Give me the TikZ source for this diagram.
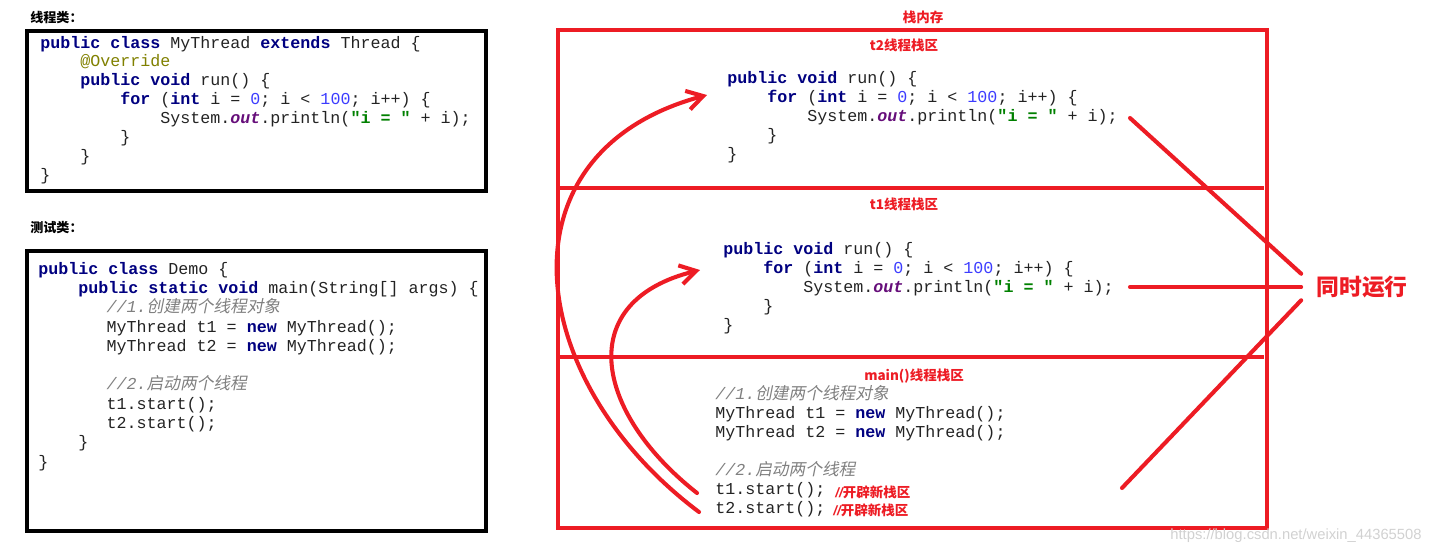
\documentclass[tikz,border=0pt]{standalone}
\usepackage{fontspec}
\usepackage{xcolor}
\setmonofont{Liberation Mono}
\setsansfont{Liberation Sans}
\newfontfamily\cjk{Noto Sans CJK SC}
\newfontfamily\cjkslant[FakeSlant=0.2]{Noto Sans CJK SC}
\usetikzlibrary{arrows.meta,positioning}

\definecolor{memred}{RGB}{237,28,36}
\definecolor{kwnavy}{RGB}{0,0,128}
\definecolor{numblue}{RGB}{60,60,255}
\definecolor{strgreen}{RGB}{0,128,0}
\definecolor{fldpurple}{RGB}{102,14,122}
\definecolor{annolive}{RGB}{128,128,0}
\definecolor{cmtgray}{RGB}{128,128,128}
\definecolor{plaintext}{RGB}{35,35,35}

\newcommand\kw[1]{\textcolor{kwnavy}{\bfseries #1}}
\newcommand\num[1]{\textcolor{numblue}{#1}}
\newcommand\str[1]{\textcolor{strgreen}{\bfseries #1}}
\newcommand\fld[1]{\textcolor{fldpurple}{\bfseries\itshape #1}}
\newcommand\cmt[1]{\textcolor{cmtgray}{\itshape #1}}
\newcommand\tb{\hspace*{2.4em}}
\newcommand\tbb{\hspace*{4.1em}}
\newcommand\codefont{\ttfamily\fontsize{11.86pt}{13.4pt}\selectfont}
\newcommand\demofont{\ttfamily\fontsize{11.86pt}{13.7pt}\selectfont}

\tikzset{
  codebox/.style={draw=black, line width=2.4pt},
  stackbox/.style={draw=memred, line width=2.3pt},
  codetext/.style={anchor=base west, inner sep=0pt, align=left, text=plaintext, font=\codefont},
  blacktitle/.style={anchor=west, inner sep=0pt, font=\cjk\bfseries\fontsize{9.3pt}{11pt}\selectfont},
  redtitle/.style={inner sep=0pt, text=memred, font=\cjk\bfseries\fontsize{9.6pt}{11pt}\selectfont},
  redline/.style={draw=memred, line width=2.9pt, line cap=round},
  redarrow/.style={redline, -{Straight Barb[length=4mm,width=4.8mm]}}
}

\begin{document}
\begin{tikzpicture}[x=0.025cm, y=-0.025cm]
  \useasboundingbox (0,0) rectangle (1441,554);

  % left side: thread class and test class
  % (code nodes sit on the baseline of their last line)
  \node[blacktitle] (thrlabel) at (30,18) {线程类：};
  \draw[codebox] (27,31) rectangle (486,191);
  \node[codetext] (thrcode) at (40,180) {%
\kw{public class} MyThread \kw{extends} Thread \{\\
\tb\textcolor{annolive}{@Override}\\
\tb\kw{public void} run() \{\\
\tb\tb\kw{for} (\kw{int} i = \num{0}; i < \num{100}; i++) \{\\
\tb\tb\tb System.\fld{out}.println(\str{"i = "} + i);\\
\tb\tb\}\\
\tb\}\\
\}};

  \node[blacktitle] (demolabel) at (30,228) {测试类：};
  \draw[codebox] (27,251) rectangle (486,531);
  \node[codetext, font=\demofont] (democode) at (38,467) {%
\kw{public class} Demo \{\\
\tb\kw{public static void} main(String[] args) \{\\
\tbb\cmt{//1.{\cjkslant 创建两个线程对象}}\\
\tbb MyThread t1 = \kw{new} MyThread();\\
\tbb MyThread t2 = \kw{new} MyThread();\\
\mbox{}\\
\tbb\cmt{//2.{\cjkslant 启动两个线程}}\\
\tbb t1.start();\\
\tbb t2.start();\\
\tb\}\\
\}};

  % right side: stack memory
  \node[redtitle] (stacklabel) at (923,17) {栈内存};
  \draw[stackbox] (558,30) rectangle (1267,528);
  \draw[stackbox] (558,188) -- (1264,188);
  \draw[stackbox] (558,357) -- (1264,357);

  \node[redtitle] (t2label) at (904,45) {t2线程栈区};
  \node[codetext] (t2code) at (727,159) {%
\kw{public void} run() \{\\
\tb\kw{for} (\kw{int} i = \num{0}; i < \num{100}; i++) \{\\
\tb\tb System.\fld{out}.println(\str{"i = "} + i);\\
\tb\}\\
\}};

  \node[redtitle] (t1label) at (904,204) {t1线程栈区};
  \node[codetext] (t1code) at (723,330) {%
\kw{public void} run() \{\\
\tb\kw{for} (\kw{int} i = \num{0}; i < \num{100}; i++) \{\\
\tb\tb System.\fld{out}.println(\str{"i = "} + i);\\
\tb\}\\
\}};

  \node[redtitle] (mainlabel) at (914,376) {main()线程栈区};
  \node[codetext] (maincode) at (715,513) {%
\cmt{//1.{\cjkslant 创建两个线程对象}}\\
MyThread t1 = \kw{new} MyThread();\\
MyThread t2 = \kw{new} MyThread();\\
\mbox{}\\
\cmt{//2.{\cjkslant 启动两个线程}}\\
t1.start();\\
t2.start();};
  \node[redtitle, anchor=base west] (t1note) at (835,497) {{\sffamily\bfseries\itshape //}开辟新栈区};
  \node[redtitle, anchor=base west] (t2note) at (833,515) {{\sffamily\bfseries\itshape //}开辟新栈区};

  % start() opens a new stack
  \coordinate (t1go) at (697,493);
  \coordinate (t2go) at (699,512);
  \coordinate (t1in) at (700,270);
  \coordinate (t2in) at (707,95);
  \draw[redarrow] (t2go) .. controls +(-176,-132) and +(-212,57) .. (t2in);
  \draw[redarrow] (t1go) .. controls +(-103,-81) and +(-127,31) .. (t1in);

  % running at the same time
  \node[inner xsep=15pt*0.7113, inner ysep=0pt, minimum height=26*0.7113pt, text=memred,
        font=\cjk\bfseries\fontsize{16.2pt}{18pt}\selectfont] (sync) at (1362,287) {同时运行};
  \coordinate (t2end) at (1130,118);
  \coordinate (t1end) at (1130,287);
  \coordinate (mainend) at (1122,488);
  \draw[redline] (t2end) -- (sync.north west);
  \draw[redline] (t1end) -- (sync.west);
  \draw[redline] (mainend) -- (sync.south west);

  \node[text=black!18, font=\sffamily\fontsize{10.5pt}{12pt}\selectfont] (mark) at (1296,536) {https://blog.csdn.net/weixin\_44365508};
\end{tikzpicture}
\end{document}
